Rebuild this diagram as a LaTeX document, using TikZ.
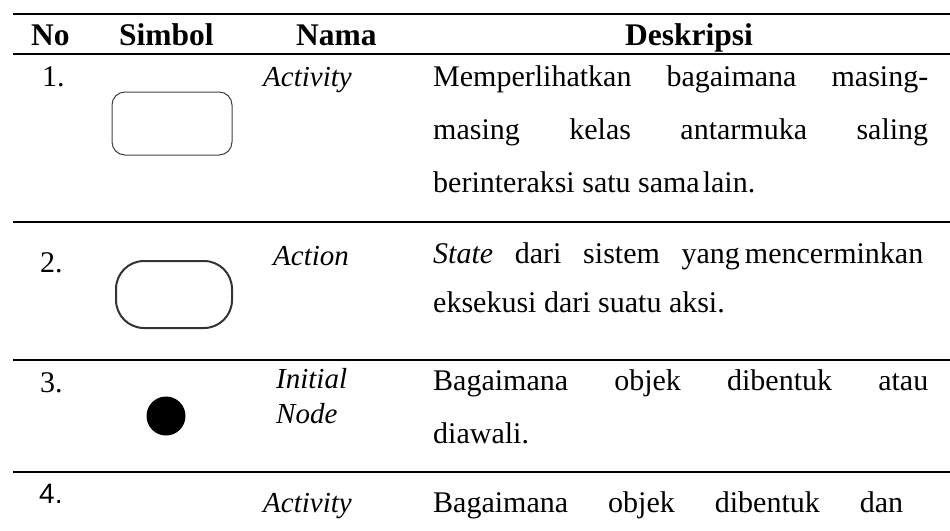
\documentclass[tikz,border=0pt]{standalone}
\usepackage{fontspec}
\setmainfont{Liberation Serif}
\newfontfamily\numsans{Liberation Sans}
\begin{document}
\begin{tikzpicture}[x=1pt,y=-1pt,
  rule/.style={line width=2pt},
  txt/.style={anchor=base west, inner sep=0pt, font=\fontsize{30}{36}\selectfont},
  nama/.style={anchor=base west, inner sep=0pt, font=\fontsize{29}{35}\selectfont\itshape},
  head/.style={anchor=base west, inner sep=0pt, font=\fontsize{31.5}{38}\selectfont\bfseries},
  symbox/.style={draw=black!75, line width=1pt},
  symround/.style={draw=black!80, line width=2pt}
]
% page
\fill[white] (0,0) rectangle (950,530);
\useasboundingbox (0,0) rectangle (950,530);

% table rules
\draw[rule] (13,14) -- (950,14);
\draw[rule] (13,54) -- (950,54);
\draw[rule] (13,222) -- (950,222);
\draw[rule] (13,360) -- (950,360);
\draw[rule] (13,472) -- (950,472);

% header
\node[head] (hNo) at (31,45) {No};
\node[head] (hSimbol) at (119,45) {Simbol};
\node[head] (hNama) at (296,45) {Nama};
\node[head] (hDesk) at (625,45) {Deskripsi};

% row 1: activity
\node[txt] (n1) at (42,86) {1.};
\draw[symbox, rounded corners=13pt] (112,92) rectangle (232,155);
\node[nama] (a1) at (263,86) {Activity};
\node[txt] (d1a) at (433,86) {\makebox[495pt][s]{Memperlihatkan bagaimana masing-}};
\node[txt] (d1b) at (433,139) {\makebox[495pt][s]{masing kelas antarmuka saling}};
\node[txt] (d1c) at (433,192) {berinteraksi satu sama\kern3pt lain.};

% row 2: action
\node[txt] (n2) at (40,272) {2.};
\draw[symround, rounded corners=28pt] (116,261) rectangle (232,328);
\node[nama] (a2) at (273,265) {Action};
\node[txt] (d2a) at (433,263) {\makebox[490pt][s]{\itshape State\upshape{} dari sistem yang\kern5pt mencerminkan}};
\node[txt] (d2b) at (433,312) {eksekusi dari suatu aksi.};

% row 3: initial node
\node[txt] (n3) at (40,392) {3.};
\fill[black] (166,416) circle (19.5);
\node[nama] (a3a) at (276,388) {Initial};
\node[nama] (a3b) at (276,423) {Node};
\node[txt] (d3a) at (433,390) {\makebox[495pt][s]{Bagaimana objek dibentuk atau}};
\node[txt] (d3b) at (433,443) {diawali.};

% row 4
\node[txt, font=\fontsize{28}{34}\selectfont\numsans] (n4) at (39,503) {4.};
\node[nama] (a4) at (263,512) {Activity};
\node[txt] (d4a) at (433,512) {\makebox[470pt][s]{Bagaimana objek dibentuk dan}};
\end{tikzpicture}
\end{document}
